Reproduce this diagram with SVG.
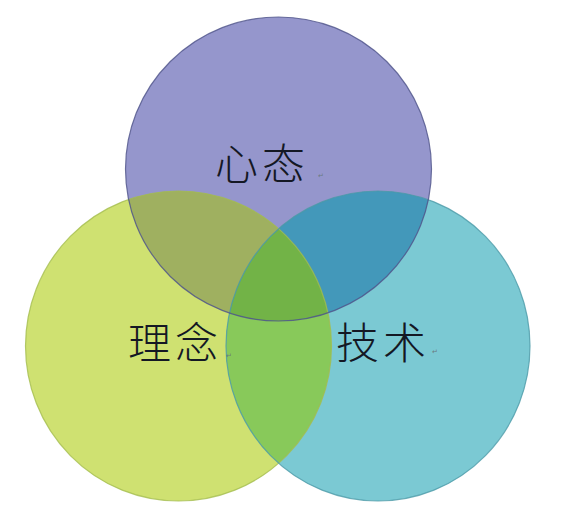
<svg xmlns="http://www.w3.org/2000/svg" width="565" height="512" viewBox="0 0 565 512">
<style>
.lbl{font-family:"Noto Sans CJK SC","Noto Sans CJK JP",sans-serif;font-size:43px;font-weight:300;fill:#141824;text-anchor:middle;letter-spacing:4px}
.mark{font-family:"DejaVu Sans",sans-serif;font-size:7px;fill:#6a7a80}
</style>
<defs>
<ellipse id="cT" cx="278.5" cy="169" rx="153" ry="152"/>
<ellipse id="cL" cx="178.5" cy="346" rx="153" ry="155"/>
<ellipse id="cR" cx="378" cy="346" rx="152" ry="155"/>
<clipPath id="clipT"><use href="#cT"/></clipPath>
<clipPath id="clipL"><use href="#cL"/></clipPath>
<clipPath id="clipR"><use href="#cR"/></clipPath>
</defs>
<rect width="565" height="512" fill="#ffffff"/>
<g id="circle-lr">
<use href="#cL" fill="#cfe171"/>
<use href="#cR" fill="#7bc9d3"/>
<g clip-path="url(#clipL)"><use href="#cR" fill="#88c95a"/></g>
</g>
<g id="circle-top">
<use href="#cT" fill="#9596cc"/>
<g clip-path="url(#clipT)">
<use href="#cL" fill="#9fb060"/>
<use href="#cR" fill="#4398ba"/>
<g clip-path="url(#clipL)"><use href="#cR" fill="#72b347"/></g>
</g>
</g>
<g id="outlines" fill="none" stroke-width="1.2">
<use href="#cL" stroke="#a4bd4e" stroke-opacity="0.8"/>
<use href="#cR" stroke="#4b9aa8" stroke-opacity="0.8"/>
<use href="#cT" stroke="#4e5288" stroke-opacity="0.8"/>
</g>
<g id="node-xintai">
<text class="lbl" x="262" y="180">心态</text>
<text class="mark" x="318" y="178">↵</text>
</g>
<g id="node-linian">
<text class="lbl" x="175" y="359">理念</text>
<text class="mark" x="226" y="358">↵</text>
</g>
<g id="node-jishu">
<text class="lbl" x="383" y="359">技术</text>
<text class="mark" x="432" y="354">↵</text>
</g>
</svg>
